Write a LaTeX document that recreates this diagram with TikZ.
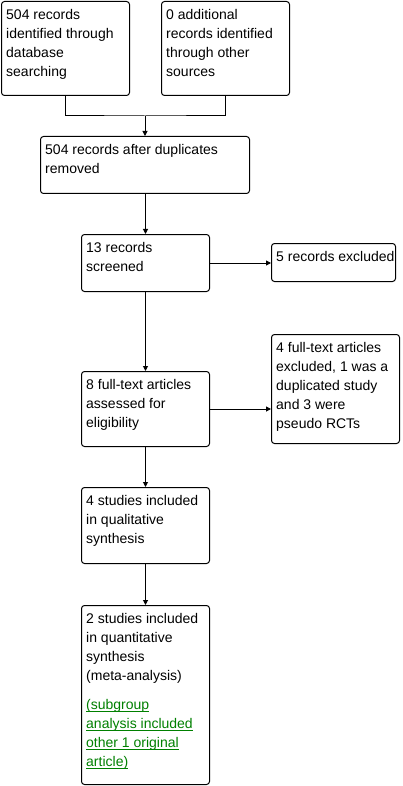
\documentclass[tikz,border=0pt]{standalone}
\usepackage{fontspec}
\setmainfont{Liberation Sans}
\usetikzlibrary{arrows.meta}
\definecolor{lnk}{RGB}{0,128,0}
\newsavebox{\glbox}
\newcommand{\gl}[1]{\textcolor{lnk}{\sbox{\glbox}{#1}\rlap{\rule[-3pt]{\wd\glbox}{1pt}}\usebox{\glbox}}}
\begin{document}
\begin{tikzpicture}[x=1pt,y=-1pt,
  box/.style={draw=black,line width=1pt,rounded corners=3pt,inner sep=0,anchor=north west},
  txt/.style={anchor=north west,inner sep=0,align=left,font=\fontsize{14pt}{19pt}\selectfont},
  conn/.style={line width=1pt},
  arr/.style={line width=1pt,-{Triangle[length=5pt,width=5pt]}}]
\useasboundingbox (0,0) rectangle (402,786);
\fill[white] (0,0) rectangle (402,786);
% boxes
\node[box,minimum width=128pt,minimum height=94pt] (b1) at (1,1) {};
\node[box,minimum width=128pt,minimum height=94pt] (b2) at (161,1) {};
\node[box,minimum width=209pt,minimum height=57pt] (b3) at (40,136) {};
\node[box,minimum width=128pt,minimum height=57pt] (b4) at (81,234) {};
\node[box,minimum width=124pt,minimum height=38pt] (b5) at (271,243) {};
\node[box,minimum width=128pt,minimum height=75pt] (b6) at (81,371) {};
\node[box,minimum width=128pt,minimum height=109pt] (b7) at (271,334) {};
\node[box,minimum width=128pt,minimum height=76pt] (b8) at (81,487) {};
\node[box,minimum width=128pt,minimum height=179pt] (b9) at (81,605) {};
% texts
\node[txt] (t1) at (6,9) {504 records\\identified through\\database\\searching};
\node[txt] (t2) at (166,9) {0 additional\\records identified\\through other\\sources};
\node[txt] (t3) at (45,144) {504 records after duplicates\\removed};
\node[txt] (t4) at (86,242) {13 records\\screened};
\node[txt] (t5) at (276,251) {5 records excluded};
\node[txt] (t6) at (86,379) {8 full-text articles\\assessed for\\eligibility};
\node[txt] (t7) at (276,342) {4 full-text articles\\excluded, 1 was a\\duplicated study\\and 3 were\\pseudo RCTs};
\node[txt] (t8) at (86,495) {4 studies included\\in qualitative\\synthesis};
\node[txt] (t9) at (86,613) {2 studies included\\in quantitative\\synthesis\\(meta-analysis)\\[10pt]\gl{(subgroup}\\\gl{analysis included}\\\gl{other 1 original}\\\gl{article)}};
% connectors
\coordinate (j) at (b3.north |- 0,116);
\draw[conn] (b1.south) |- (j) -| (b2.south);
\draw[arr] (j) -- (b3.north);
\draw[arr] (b3.south -| b4.north) -- (b4.north);
\draw[arr] (b4.east) -- (b4.east -| b5.west);
\draw[arr] (b4.south) -- (b6.north);
\draw[arr] (b6.east) -- (b6.east -| b7.west);
\draw[arr] (b6.south) -- (b8.north);
\draw[arr] (b8.south) -- (b9.north);
\end{tikzpicture}
\end{document}
